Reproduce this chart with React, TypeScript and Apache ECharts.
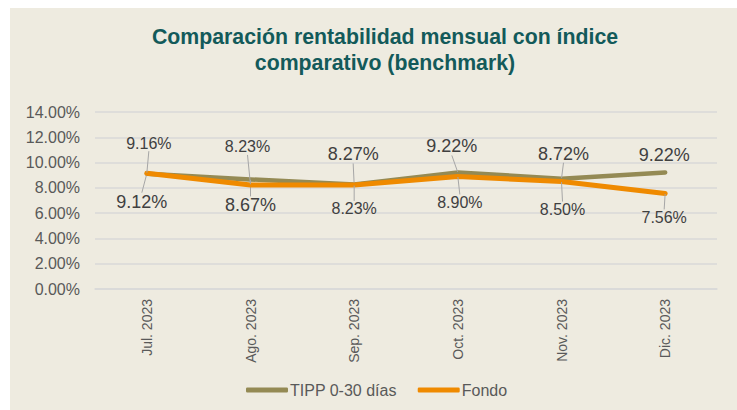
import React, { useEffect, useRef } from "react";
import * as echarts from "echarts";

const categories = ["Jul. 2023", "Ago. 2023", "Sep. 2023", "Oct. 2023", "Nov. 2023", "Dic. 2023"];
const tippValues = [9.12, 8.67, 8.27, 9.22, 8.72, 9.22];
const fondoValues = [9.16, 8.23, 8.23, 8.9, 8.5, 7.56];
const seriesNames = ["TIPP 0-30 días", "Fondo"];
const titleText = "Comparación rentabilidad mensual con índice\ncomparativo (benchmark)";

// label offsets (styling) relative to each point
const tippLabelShift = [[-5, 28], [0, 26], [-1, -30], [-6, -26], [2, -25], [-1, -17]];
const fondoLabelShift = [[2, -30], [-3, -38], [0, 24], [2, 26], [1, 28], [-1, 24]];
const tippLeader = [true, true, true, true, true, false];
const fondoLeader = [true, true, true, true, true, true];

const FONT = "'Liberation Sans', Arial, sans-serif";

export default function App() {
  const ref = useRef<HTMLDivElement>(null);
  useEffect(() => {
    if (!ref.current) return;
    const chart = echarts.init(ref.current, null, { renderer: "svg" });
    const shifts = [tippLabelShift, fondoLabelShift];
    const withLeader = (vals: number[], leaders: boolean[]) =>
      vals.map((v, i) => ({ value: v, labelLine: { show: leaders[i] } }));
    chart.setOption({
      animation: false,
      backgroundColor: "#EEEBE0",
      textStyle: { fontFamily: FONT },
      title: {
        text: titleText,
        left: 375,
        top: 16,
        padding: 0,
        textAlign: "center",
        textStyle: {
          fontFamily: FONT,
          fontSize: 21.3,
          fontWeight: "bold",
          color: "#135A5A",
          lineHeight: 26,
        },
      },
      legend: {
        data: seriesNames,
        left: 236,
        top: 374,
        padding: 0,
        itemWidth: 42,
        itemHeight: 5,
        itemGap: 21,
        icon: "roundRect",
        textStyle: { fontFamily: FONT, fontSize: 16, color: "#595959", padding: [0, 0, 0, -3] },
      },
      grid: { left: 85, right: 20, top: 104, bottom: 121, containLabel: false },
      xAxis: {
        type: "category",
        data: categories,
        boundaryGap: true,
        axisLine: { show: true, lineStyle: { color: "#D9D9D9", width: 1.5 } },
        axisTick: { show: false },
        axisLabel: {
          rotate: 90,
          fontSize: 14,
          fontWeight: "normal",
          color: "#595959",
          margin: 10,
          fontFamily: FONT,
        },
      },
      yAxis: {
        type: "value",
        min: 0,
        max: 14,
        interval: 2,
        axisLine: { show: false },
        axisTick: { show: false },
        splitLine: { lineStyle: { color: "#D9D9D9", width: 1.5 } },
        axisLabel: {
          fontSize: 16,
          color: "#595959",
          margin: 15,
          fontFamily: FONT,
          formatter: (v: number) => v.toFixed(2) + "%",
        },
      },
      series: [
        {
          name: seriesNames[0],
          type: "line",
          data: withLeader(tippValues, tippLeader),
          color: "#948A54",
          symbol: "circle",
          symbolSize: 1,
          showSymbol: true,
          lineStyle: { width: 4.5, color: "#948A54", cap: "round", join: "round" },
          label: {
            show: true,
            position: "inside",
            fontSize: 18,
            color: "#404040",
            fontFamily: FONT,
            formatter: (p: any) => Number(p.value).toFixed(2) + "%",
          },
          labelLine: { show: true, lineStyle: { color: "#A6A6A6", width: 1 } },
          z: 2,
        },
        {
          name: seriesNames[1],
          type: "line",
          data: withLeader(fondoValues, fondoLeader),
          color: "#EF8A00",
          symbol: "circle",
          symbolSize: 1,
          showSymbol: true,
          lineStyle: { width: 5, color: "#EF8A00", cap: "round", join: "round" },
          label: {
            show: true,
            position: "inside",
            fontSize: 16,
            color: "#404040",
            fontFamily: FONT,
            formatter: (p: any) => Number(p.value).toFixed(2) + "%",
          },
          labelLine: { show: true, lineStyle: { color: "#A6A6A6", width: 1 } },
          z: 3,
        },
      ],
      labelLayout: (params: any) => {
        const s = shifts[params.seriesIndex]?.[params.dataIndex];
        if (!s) return {};
        return { dx: s[0], dy: s[1] };
      },
    });
    return () => chart.dispose();
  }, []);
  return (
    <div
      ref={ref}
      style={{ position: "absolute", left: 10, top: 8, width: 727, height: 402 }}
    />
  );
}
